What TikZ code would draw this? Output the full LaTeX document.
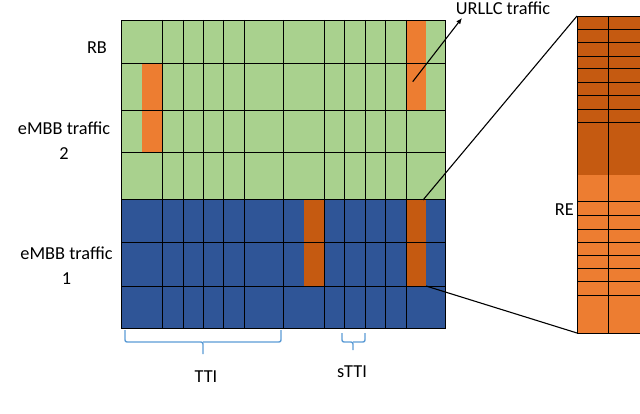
\documentclass[tikz,border=0pt]{standalone}
\usepackage{fontspec}
\setmainfont{Carlito}
\usetikzlibrary{arrows.meta}
\definecolor{grn}{HTML}{A9D18E}
\definecolor{blu}{HTML}{2F5597}
\definecolor{org}{HTML}{ED7D31}
\definecolor{dorg}{HTML}{C55A11}
\definecolor{brc}{HTML}{5B9BD5}
\begin{document}
\begin{tikzpicture}[x=1pt,y=-1pt,
  lbl/.style={font=\fontsize{18.3}{25}\selectfont, inner sep=0pt, align=center},
  gridline/.style={black, line width=0.9pt},
  pointer/.style={black, line width=1.1pt},
  bracestyle/.style={brc, line width=1.4pt, rounded corners=2pt}]
\useasboundingbox (0,0) rectangle (640,414);
% main grid fills
\fill[grn] (121,20) rectangle (445,199);
\fill[blu] (121,199) rectangle (445,328);
\fill[org] (406,20) rectangle (426,110);
\fill[org] (142,63) rectangle (162,152);
\fill[dorg] (304,199) rectangle (324,286);
\fill[dorg] (406,199) rectangle (426,286);
% grid lines
\foreach \x in {162,183,203,223,244,283,324,344,365,385,406}
  \draw[gridline] (\x,20) -- (\x,328);
\foreach \y in {63,110,152,199,242,286}
  \draw[gridline] (121,\y) -- (445,\y);
\draw[gridline] (121,20) rectangle (445,328);
% RE zoom box
\fill[dorg] (577,16) rectangle (640,175);
\fill[org] (577,175) rectangle (640,333);
\foreach \y in {29.3,42.7,56,68.3,82,95.7,109,122.3,201.7,215.7,229,242.3,255,268.3,281.7,295}
  \draw[gridline] (577,\y) -- (640,\y);
\draw[gridline] (608,16) -- (608,333);
\draw[gridline] (640,16) -- (577,16) -- (577,333) -- (640,333);
% labels
\node[lbl] (rb) at (97,48) {RB};
\node[lbl] (embb2) at (64,141) {eMBB traffic\\2};
\node[lbl] (embb1) at (66.5,266) {eMBB traffic\\1};
\node[lbl, anchor=east] (re) at (574,210) {RE};
\node[lbl] (urllc) at (503,8) {URLLC traffic};
\node[lbl] (tti) at (206,377) {TTI};
\node[lbl] (stti) at (352,372) {sTTI};
% connectors
\coordinate (u1) at (412.7,81.7);
\coordinate (u2) at (462,18);
\draw[pointer, -{Latex[length=6pt,width=5pt]}] (u1) -- (u2);
\coordinate (z1) at (423,200);
\coordinate (z2) at (577,16);
\coordinate (z3) at (426,286);
\coordinate (z4) at (577,333);
\draw[pointer] (z1) -- (z2);
\draw[pointer] (z3) -- (z4);
% braces
\coordinate (b1) at (125,330);
\coordinate (b2) at (281,330);
\coordinate (bt) at (203,354);
\draw[bracestyle] (b1) -- (125,342) -- (203,342) -- (bt);
\draw[bracestyle] (203,342) -- (281,342) -- (b2);
\coordinate (s1) at (342,333);
\coordinate (s2) at (365,333);
\coordinate (st) at (353,350);
\draw[bracestyle] (s1) -- (342,342) -- (353,342) -- (st);
\draw[bracestyle] (353,342) -- (365,342) -- (s2);
\end{tikzpicture}
\end{document}
